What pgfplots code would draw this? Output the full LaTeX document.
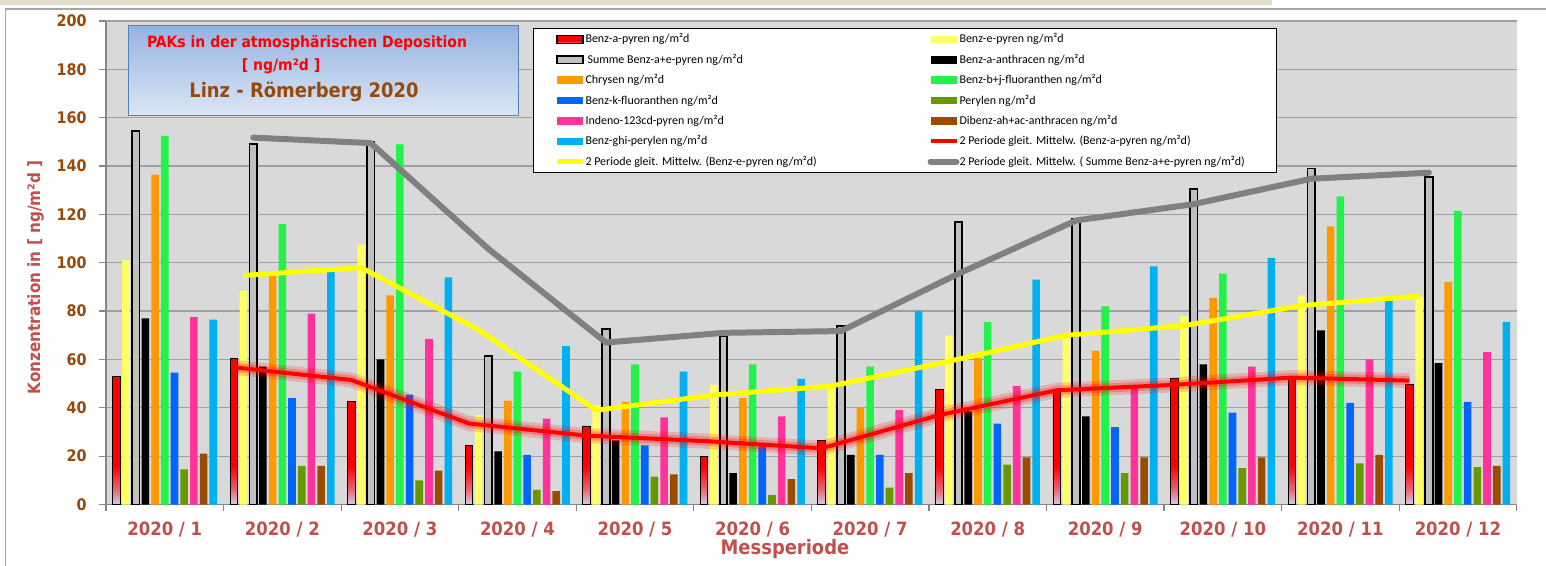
\documentclass[border=0pt]{standalone}
\usepackage{pgfplots}
\usepackage{pgfplotstable}
\pgfplotsset{compat=1.18}
\usepackage{fontspec}
\setmainfont{Carlito}
\newfontfamily\dvb{DejaVu Sans Condensed Bold}
\definecolor{cyel}{HTML}{FFFF66}
\definecolor{cgray}{HTML}{C0C0C0}
\definecolor{corange}{HTML}{FF9900}
\definecolor{cgreen}{HTML}{22F24A}
\definecolor{cblue}{HTML}{0066FF}
\definecolor{colive}{HTML}{669900}
\definecolor{cpink}{HTML}{FF3399}
\definecolor{cbrown}{HTML}{994C00}
\definecolor{ccyan}{HTML}{00B0F0}
\definecolor{lav}{HTML}{D4CCEA}
\definecolor{plotbg}{HTML}{D9D9D9}
\definecolor{gridc}{HTML}{A0A0A0}
\definecolor{axc}{HTML}{868686}
\definecolor{labc}{HTML}{C0504D}
\definecolor{tickc}{HTML}{984807}
\definecolor{boxtop}{HTML}{95B3E0}
\definecolor{boxbot}{HTML}{DCE6F5}
\definecolor{boxdraw}{HTML}{4F81BD}
\definecolor{beige}{HTML}{E2DCC8}
\definecolor{framec}{HTML}{A6A6A6}
\definecolor{mayel}{HTML}{FFFF00}
\definecolor{magray}{HTML}{808080}
\pgfdeclareverticalshading{redbar}{100bp}{color(0bp)=(lav); color(25bp)=(lav); color(30bp)=(red!50!lav); color(38bp)=(red); color(100bp)=(red)}

\pgfplotstableread{
x r e s ba ch bbj bk per ind dib ghi
1 53 101 154.5 77 136.5 152.5 54.5 14.5 77.5 21 76.5
2 60.5 88.5 149 57 96 116 44 16 79 16 97
3 42.5 107.5 150 60 86.5 149 45.5 10 68.5 14 94
4 24.5 37 61.5 22 43 55 20.5 6 35.5 5.5 65.5
5 32.5 41 72.5 26.5 42.5 58 24.5 11.5 36 12.5 55
6 20 49.5 69.5 13 44 58 24 4 36.5 10.5 52
7 26.5 48.5 74 20.5 40 57 20.5 7 39 13 80
8 47.5 70 117 38.5 60.5 75.5 33.5 16.5 49 19.5 93
9 47 70 118 36.5 63.5 82 32 13 48 19.5 98.5
10 52 78 130.5 58 85.5 95.5 38 15 57 19.5 102
11 53 86.5 139 72 115 127.5 42 17 60 20.5 85
12 49.5 86 135.5 58.5 92 121.5 42.5 15.5 63 16 75.5
}\data

% 2-period moving averages, plotted at the position of the matching bar
\pgfplotstableread{
x mr me ms
2 56.75 94.75 151.75
3 51.5 98 149.5
4 33.5 72.25 105.75
5 28.5 39 67
6 26.25 45.25 71
7 23.25 49 71.75
8 37 59.25 95.5
9 47.25 70 117.5
10 49.5 74 124.25
11 52.5 82.25 134.75
12 51.25 86.25 137.25
}\madata

\pgfplotsset{
  barleg/.style={legend image code/.code={\fill[##1] (0bp,-1.9bp) rectangle (13bp,1.9bp);}},
  lineleg/.style={legend image code/.code={\draw[##1] (0bp,0bp) -- (13bp,0bp);}},
  mybar/.style={ybar, bar width=3.8bp, draw=none, barleg},
}
\newcommand{\Lm}[1]{\makebox[171bp][l]{#1}}
\newcommand{\Rm}[1]{\makebox[148bp][l]{#1}}

\begin{document}
\begin{tikzpicture}
\begin{axis}[
  at={(0,0)}, anchor=south west, scale only axis,
  width=705.35bp, height=241.75bp,
  xmin=0.5, xmax=12.5, ymin=0, ymax=200,
  axis background/.style={fill=plotbg},
  axis x line*=bottom, axis y line*=left,
  axis line style={draw=axc, line width=0.7bp},
  ytick={0,20,...,200},
  ymajorgrids, grid style={draw=gridc, line width=0.6bp},
  xtick={1,...,12},
  xticklabels={2020 / 1,2020 / 2,2020 / 3,2020 / 4,2020 / 5,2020 / 6,2020 / 7,2020 / 8,2020 / 9,2020 / 10,2020 / 11,2020 / 12},
  minor xtick={0.5,1.5,...,12.5},
  tick align=outside,
  major tick length=3.3bp, minor tick length=3.3bp,
  major x tick style={draw=none},
  minor x tick style={draw=axc, line width=0.6bp},
  y tick style={draw=axc, line width=0.6bp},
  /pgf/number format/assume math mode=true,
  yticklabel style={font=\dvb\fontsize{8}{9.6}\selectfont, text=tickc, anchor=east, inner sep=0pt, xshift=-6.2bp},
  xticklabel style={font=\dvb\fontsize{9.2}{11}\selectfont, text=labc, anchor=center, inner sep=0pt, yshift=-9.45bp},
  xlabel={Messperiode}, ylabel={Konzentration in [ ng/m²d ]},
  every axis x label/.style={at={(axis description cs:0.4813,-0.092)}, anchor=center, font=\dvb\fontsize{10}{12}\selectfont, text=labc},
  every axis y label/.style={at={(axis description cs:-0.05,0.4695)}, anchor=center, rotate=90, font=\dvb\fontsize{8.5}{10}\selectfont, text=labc},
  legend columns=2,
  legend cell align=left,
  legend style={at={(axis description cs:0.3027,0.9855)}, anchor=north west, draw=black, line width=0.5bp, fill=white,
    font=\fontsize{6}{7}\selectfont, column sep=0bp, row sep=3.69bp, inner xsep=10.5bp, inner ysep=2.2bp,
    nodes={inner sep=0pt, text height=5bp, text depth=1.5bp}},
]
\addplot[mybar, bar shift=-24.25bp, draw=black, line width=0.4bp, shading=redbar,
  legend image code/.code={\draw[fill=red, draw=black, line width=0.6bp] (0bp,-1.9bp) rectangle (13bp,1.9bp);}]
  table[x=x, y=r]{\data};
\addlegendentry{\Lm{Benz-a-pyren ng/m²d}}
\addplot[mybar, bar shift=-19.4bp, fill=cyel] table[x=x, y=e]{\data};
\addlegendentry{\Rm{Benz-e-pyren ng/m²d}}
\addplot[mybar, bar shift=-14.55bp, fill=cgray, draw=black, line width=0.9bp,
  legend image code/.code={\draw[fill=cgray, draw=black, line width=0.9bp] (0bp,-1.9bp) rectangle (13bp,1.9bp);}]
  table[x=x, y=s]{\data};
\addlegendentry{\Lm{\,Summe Benz-a+e-pyren ng/m²d}}
\addplot[mybar, bar shift=-9.7bp, fill=black] table[x=x, y=ba]{\data};
\addlegendentry{\Rm{Benz-a-anthracen ng/m²d}}
\addplot[mybar, bar shift=-4.85bp, fill=corange] table[x=x, y=ch]{\data};
\addlegendentry{\Lm{Chrysen ng/m²d}}
\addplot[mybar, bar shift=0bp, fill=cgreen] table[x=x, y=bbj]{\data};
\addlegendentry{\Rm{Benz-b+j-fluoranthen ng/m²d}}
\addplot[mybar, bar shift=4.85bp, fill=cblue] table[x=x, y=bk]{\data};
\addlegendentry{\Lm{Benz-k-fluoranthen ng/m²d}}
\addplot[mybar, bar shift=9.7bp, fill=colive] table[x=x, y=per]{\data};
\addlegendentry{\Rm{Perylen ng/m²d}}
\addplot[mybar, bar shift=14.55bp, fill=cpink] table[x=x, y=ind]{\data};
\addlegendentry{\Lm{Indeno-123cd-pyren ng/m²d}}
\addplot[mybar, bar shift=19.4bp, fill=cbrown] table[x=x, y=dib]{\data};
\addlegendentry{\Rm{Dibenz-ah+ac-anthracen ng/m²d}}
\addplot[mybar, bar shift=24.25bp, fill=ccyan] table[x=x, y=ghi]{\data};
\addlegendentry{\Lm{Benz-ghi-perylen ng/m²d}}
% glow of the red moving average
\addplot[forget plot, red, opacity=0.18, line width=7.5bp, line join=round] table[x expr=\thisrow{x}-0.4125, y=mr]{\madata};
\addplot[forget plot, red, opacity=0.25, line width=4.5bp, line join=round] table[x expr=\thisrow{x}-0.4125, y=mr]{\madata};
\addplot[red, line width=2bp, lineleg] table[x expr=\thisrow{x}-0.4125, y=mr]{\madata};
\addlegendentry{\Rm{2 Periode gleit. Mittelw. (Benz-a-pyren ng/m²d)}}
\addplot[mayel, line width=2.5bp, line join=round, lineleg] table[x expr=\thisrow{x}-0.33, y=me]{\madata};
\addlegendentry{\Lm{2 Periode gleit. Mittelw. (Benz-e-pyren ng/m²d)}}
\addplot[magray, line width=3bp, line join=round, line cap=round, lineleg] table[x expr=\thisrow{x}-0.2475, y=ms]{\madata};
\addlegendentry{\Rm{2 Periode gleit. Mittelw. ( Summe Benz-a+e-pyren ng/m²d)}}
\end{axis}
% title box
\draw[boxdraw, line width=0.5bp, top color=boxtop, bottom color=boxbot] (11bp,194.25bp) rectangle (206.3bp,239.4bp);
\node[text=red, font=\dvb\fontsize{7.8}{9}\selectfont] at (100.5bp,230.9bp) {PAKs in der atmosphärischen Deposition};
\node[text=red, font=\dvb\fontsize{7.8}{9}\selectfont] at (87.5bp,218.9bp) {[ ng/m²d ]};
\node[text=tickc, font=\dvb\fontsize{10}{12}\selectfont] at (99bp,206.4bp) {Linz - Römerberg 2020};
% outer frame
\fill[beige] (-53bp,252.25bp) rectangle (583bp,249.75bp);
\draw[framec, line width=0.6bp] (-50.3bp,-30.75bp) -- (-50.3bp,247.75bp) -- (720bp,247.75bp);
\pgfresetboundingbox
\useasboundingbox (-53bp,-30.75bp) rectangle (720bp,252.25bp);
\end{tikzpicture}
\end{document}
